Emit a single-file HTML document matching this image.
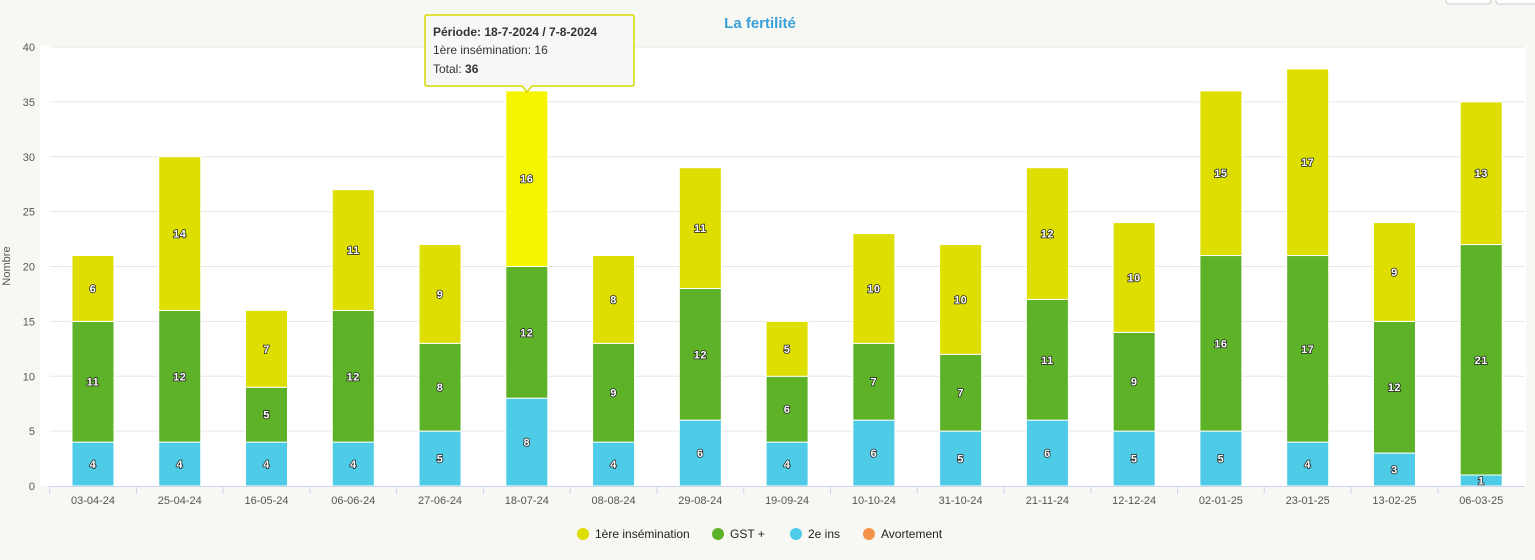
<!DOCTYPE html>
<html><head><meta charset="utf-8"><style>
body{margin:0;background:#f7f8f3;font-family:"Liberation Sans",sans-serif;}
#wrap{position:relative;width:1535px;height:560px;overflow:hidden}
svg text{font-family:"Liberation Sans",sans-serif}
</style></head><body>
<div id="wrap">
<svg id="chart" width="1535" height="560">
<rect x="1446" y="-6" width="45" height="10" rx="3" fill="#fff" stroke="#ccc"/>
<rect x="1496" y="-6" width="45" height="10" rx="3" fill="#fff" stroke="#ccc"/>
<rect x="40" y="46" width="1486" height="440" fill="#fff"/>
<text x="760" y="28" text-anchor="middle" font-size="15" font-weight="bold" fill="#3aa0d8">La fertilité</text>
<text transform="translate(10,266) rotate(-90)" text-anchor="middle" font-size="11" fill="#555">Nombre</text>
<g id="grid"></g><g id="bars"></g><g id="xaxis"></g>
<g>
<g><circle cx="583" cy="534" r="6" fill="#dede00"/><text x="595" y="538" font-size="12" fill="#222">1ère insémination</text></g>
<g><circle cx="718" cy="534" r="6" fill="#5db228"/><text x="730" y="538" font-size="12" fill="#222">GST +</text></g>
<g><circle cx="796" cy="534" r="6" fill="#4ecbe6"/><text x="808" y="538" font-size="12" fill="#222">2e ins</text></g>
<g><circle cx="869" cy="534" r="6" fill="#f5924a"/><text x="881" y="538" font-size="12" fill="#222">Avortement</text></g>
</g>
<g>
<path d="M427,15 H632 Q634,15 634,17 V84 Q634,86 632,86 H532 L527,92 L522,86 H427 Q425,86 425,84 V17 Q425,15 427,15 Z" fill="#f7f7f7" stroke="#d8d800" stroke-width="1.5"/>
<text x="433" y="36" font-size="12" fill="#333"><tspan font-weight="bold">Période: 18-7-2024 / 7-8-2024</tspan></text>
<text x="433" y="54" font-size="12" fill="#333">1ère insémination: 16</text>
<text x="433" y="73" font-size="12" fill="#333">Total: <tspan font-weight="bold">36</tspan></text>
</g>
</svg></div>
<script>
const categories=["03-04-24","25-04-24","16-05-24","06-06-24","27-06-24","18-07-24","08-08-24","29-08-24","19-09-24","10-10-24","31-10-24","21-11-24","12-12-24","02-01-25","23-01-25","13-02-25","06-03-25"];
const ins2=[4,4,4,4,5,8,4,6,4,6,5,6,5,5,4,3,1];
const gst=[11,12,5,12,8,12,9,12,6,7,7,11,9,16,17,12,21];
const ins1=[6,14,7,11,9,16,8,11,5,10,10,12,10,15,17,9,13];
const yTicks=[0,5,10,15,20,25,30,35,40];
const NS="http://www.w3.org/2000/svg";
const x0=49.6,x1=1524.6,yb=486,yt=47,ymax=40;
const bw=(x1-x0)/categories.length;
const y=v=>yb-(yb-yt)*v/ymax;
const xc=i=>x0+bw*(i+0.5);
function mk(t,a,p){const e=document.createElementNS(NS,t);for(const k in a)e.setAttribute(k,a[k]);p.appendChild(e);return e;}
const grid=document.getElementById('grid'),bars=document.getElementById('bars'),xa=document.getElementById('xaxis');
yTicks.forEach(v=>{
 if(v>0){const l=mk('line',{x1:x0,x2:x1,y1:y(v),y2:y(v),stroke:'#e6e6e6'},grid);
 
 }
 const t=mk('text',{x:35,y:y(v)+4,'text-anchor':'end','font-size':11,fill:'#555'},grid);t.textContent=v;
 
 
});
const ax=mk('line',{x1:x0,x2:x1,y1:yb+0.5,y2:yb+0.5,stroke:'#ccd6eb'},xa);


categories.forEach((c,i)=>{
 const tk=mk('line',{x1:x0+bw*i,x2:x0+bw*i,y1:yb,y2:yb+8,stroke:'#ccd6eb'},xa);
 
 
 const t=mk('text',{x:xc(i),y:yb+18,'text-anchor':'middle','font-size':11,fill:'#555'},xa);t.textContent=c;
 
 
 let base=0;
 [[ins2,'#4ecbe6','bar-2e-ins'],[gst,'#5db228','bar-gst'],[ins1,i===5?'#f5f500':'#dede00','bar-1ere-ins']].forEach(([arr,col,nm])=>{
  const v=arr[i];if(!v)return;
  const r=mk('rect',{x:xc(i)-21,y:y(base+v),width:42,height:y(base)-y(base+v),fill:col,stroke:'#fff','stroke-width':1},bars);
  
  
  const l=mk('text',{x:xc(i),y:(y(base)+y(base+v))/2+4,'text-anchor':'middle','font-size':11,'font-weight':'bold',fill:'#fff',stroke:'#222','stroke-width':1.5,'paint-order':'stroke','letter-spacing':'0.5'},bars);
  l.textContent=v;
  
  
  base+=v;
 });
});
</script>
</body></html>
